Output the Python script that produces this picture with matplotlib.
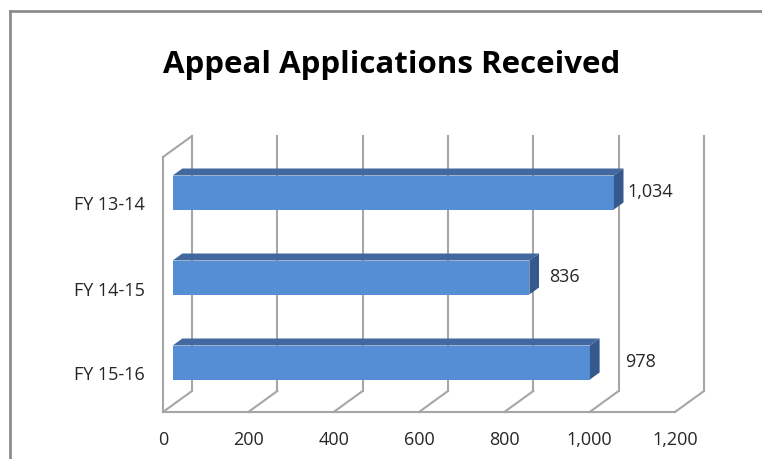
import matplotlib
matplotlib.use('Agg')
from matplotlib import pyplot as plt
from matplotlib.lines import Line2D
import matplotlib.transforms as mtransforms

# data
categories = ['FY 15-16', 'FY 14-15', 'FY 13-14']
received = [978, 836, 1034]
x_ticks = [0, 200, 400, 600, 800, 1000, 1200]
label_nudge = [70, 35, 20]  # extra room before each value label

FRONT = '#558ed5'
TOP = '#41699f'
SIDE = '#35598c'
GRID = '#a6a6a6'
TXT = '#262626'

W, H = 762, 460
fig = plt.figure(figsize=(W / 100, H / 100), dpi=100)
plt.rcParams['font.family'] = ['Open Sans', 'DejaVu Sans']

# front plane of the 3d box, in pixels of the picture
left, right, top, bottom = 163, 675, 158, 413
ax = fig.add_axes([left / W, 1 - bottom / H, (right - left) / W, (bottom - top) / H])
ax.set_xlim(0, 1200)
ax.set_ylim(-0.5, 2.5)
for s in ax.spines.values():
    s.set_visible(False)

# depth of the box (29 px right, 21 px up) turned into data units
px_x = (right - left) / 1200.0
px_y = (bottom - top) / 3.0
DX, DY = 29 / px_x, 21 / px_y

# back wall gridlines and floor
for t in x_ticks:
    ax.plot([t + DX, t + DX], [-0.5 + DY, 2.5 + DY], color=GRID, lw=1.5, clip_on=False, zorder=1)
    ax.plot([t, t + DX], [-0.5, -0.5 + DY], color=GRID, lw=1.5, clip_on=False, zorder=1)
ax.plot([0, 1200], [-0.5, -0.5], color=GRID, lw=1.5, clip_on=False, zorder=1)
# left wall
ax.plot([0, 0], [-0.5, 2.5], color=GRID, lw=1.5, clip_on=False, zorder=1)
ax.plot([0, DX], [2.5, 2.5 + DY], color=GRID, lw=1.5, clip_on=False, zorder=1)

# 3d bars: front at 1/3 depth, back at 2/3 depth
h = 0.4
f_dx, f_dy = DX / 3, DY / 3
b_dx, b_dy = 2 * DX / 3, 2 * DY / 3
for i, v in enumerate(received):
    y0, y1 = i - h / 2 + f_dy, i + h / 2 + f_dy
    ax.fill([f_dx, f_dx + v, f_dx + v, f_dx], [y0, y0, y1, y1],
            color=FRONT, lw=0, clip_on=False, zorder=3)
    ax.fill([f_dx, f_dx + v, b_dx + v, b_dx], [y1, y1, i + h / 2 + b_dy, i + h / 2 + b_dy],
            color=TOP, lw=0, clip_on=False, zorder=3)
    ax.fill([f_dx + v, b_dx + v, b_dx + v, f_dx + v],
            [y0, i - h / 2 + b_dy, i + h / 2 + b_dy, y1],
            color=SIDE, lw=0, clip_on=False, zorder=3)
    ax.text(v + DX / 2 + label_nudge[i], i + DY * 0.4, '{:,}'.format(v),
            ha='left', va='center', fontsize=13, color=TXT, zorder=4)

ax.set_xticks(x_ticks)
ax.set_xticklabels(['{:,}'.format(t) for t in x_ticks], fontsize=13, color=TXT)
ax.set_yticks(range(len(categories)))
ax.set_yticklabels(categories, fontsize=13, color=TXT)
ax.tick_params(axis='x', length=0, pad=13)
ax.tick_params(axis='y', length=0, pad=13)
shift = mtransforms.ScaledTranslation(0, -3 / 100, fig.dpi_scale_trans)
for lbl in ax.get_yticklabels():
    lbl.set_transform(lbl.get_transform() + shift)

fig.text(392 / W, 1 - 65 / H, 'Appeal Applications Received', ha='center', va='center',
         fontsize=22.5, fontweight='bold', color='black')

# chart frame (cut by the picture edge)
fig.add_artist(Line2D([10 / W, 10 / W], [0, 1 - 12 / H], color='#8c8c8c', lw=2))
fig.add_artist(Line2D([10 / W, 1], [1 - 12 / H, 1 - 12 / H], color='#8c8c8c', lw=2))

fig.savefig('out.png', dpi=100)
